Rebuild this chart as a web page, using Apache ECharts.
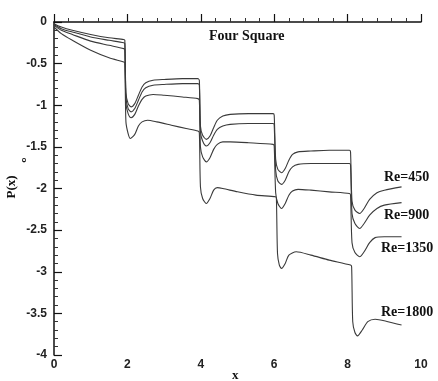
<!DOCTYPE html>
<html>
<head>
<meta charset="utf-8">
<script src="https://cdn.jsdelivr.net/npm/echarts@6/dist/echarts.min.js"></script>
<style>html,body{margin:0;padding:0;background:#fff;}#c{width:438px;height:381px;}</style>
</head>
<body>
<div id="c"></div>
<script>
var xTicks = [0, 2, 4, 6, 8, 10];
var yTicks = [0, -0.5, -1, -1.5, -2, -2.5, -3, -3.5, -4];
var seriesNames = ['Re=450', 'Re=900', 'Re=1350', 'Re=1800'];

var re450 = [[0,-0.02],[0.2,-0.06],[0.5,-0.10],[1.0,-0.15],[1.5,-0.19],[1.9,-0.21],
[1.93,-0.22],[1.96,-0.85],[2.02,-0.98],[2.1,-1.02],[2.2,-0.98],[2.3,-0.88],[2.4,-0.78],[2.5,-0.73],[2.7,-0.70],[3.0,-0.69],[3.5,-0.68],[3.92,-0.68],
[3.96,-0.70],[3.99,-1.25],[4.05,-1.36],[4.15,-1.41],[4.25,-1.37],[4.35,-1.27],[4.45,-1.18],[4.6,-1.13],[4.8,-1.11],[5.3,-1.10],[5.97,-1.10],
[6.0,-1.12],[6.04,-1.65],[6.1,-1.77],[6.2,-1.81],[6.3,-1.76],[6.4,-1.66],[6.5,-1.59],[6.65,-1.56],[7.0,-1.55],[7.5,-1.54],[8.05,-1.54],
[8.08,-1.56],[8.12,-2.15],[8.2,-2.26],[8.33,-2.30],[8.45,-2.24],[8.6,-2.13],[8.8,-2.05],[9.0,-2.02],[9.47,-1.98]];

var re900 = [[0,-0.03],[0.2,-0.08],[0.5,-0.12],[1.0,-0.18],[1.5,-0.22],[1.9,-0.25],
[1.93,-0.26],[1.96,-0.90],[2.02,-1.04],[2.1,-1.08],[2.2,-1.04],[2.3,-0.94],[2.4,-0.84],[2.5,-0.79],[2.7,-0.76],[3.0,-0.75],[3.5,-0.74],[3.92,-0.74],
[3.96,-0.76],[3.99,-1.32],[4.05,-1.43],[4.15,-1.49],[4.25,-1.45],[4.35,-1.36],[4.45,-1.29],[4.6,-1.25],[4.8,-1.23],[5.3,-1.22],[5.97,-1.22],
[6.0,-1.24],[6.04,-1.78],[6.1,-1.91],[6.2,-1.95],[6.3,-1.90],[6.4,-1.80],[6.5,-1.74],[6.65,-1.71],[7.0,-1.70],[7.5,-1.70],[8.05,-1.70],
[8.08,-1.72],[8.12,-2.30],[8.2,-2.42],[8.33,-2.48],[8.45,-2.42],[8.6,-2.32],[8.8,-2.24],[9.0,-2.20],[9.47,-2.17]];

var re1350 = [[0,-0.04],[0.2,-0.10],[0.5,-0.15],[1.0,-0.23],[1.5,-0.28],[1.9,-0.32],
[1.93,-0.33],[1.96,-0.98],[2.02,-1.10],[2.1,-1.15],[2.2,-1.11],[2.3,-1.01],[2.4,-0.93],[2.5,-0.89],[2.7,-0.87],[3.0,-0.88],[3.5,-0.90],[3.92,-0.92],
[3.96,-0.94],[3.99,-1.50],[4.05,-1.62],[4.15,-1.68],[4.25,-1.63],[4.35,-1.53],[4.45,-1.47],[4.6,-1.44],[4.8,-1.44],[5.3,-1.45],[5.97,-1.47],
[6.0,-1.49],[6.04,-2.05],[6.1,-2.18],[6.2,-2.24],[6.3,-2.18],[6.4,-2.08],[6.5,-2.03],[6.65,-2.01],[7.0,-2.02],[7.5,-2.04],[8.05,-2.06],
[8.08,-2.08],[8.12,-2.65],[8.2,-2.77],[8.33,-2.82],[8.45,-2.76],[8.6,-2.65],[8.75,-2.59],[9.0,-2.58],[9.47,-2.58]];

var re1800 = [[0,-0.06],[0.2,-0.14],[0.5,-0.22],[1.0,-0.34],[1.5,-0.43],[1.9,-0.48],
[1.93,-0.49],[1.96,-1.20],[2.02,-1.34],[2.08,-1.40],[2.2,-1.35],[2.3,-1.25],[2.4,-1.20],[2.55,-1.18],[2.8,-1.20],[3.2,-1.24],[3.6,-1.28],[3.92,-1.31],
[3.96,-1.33],[3.99,-1.98],[4.05,-2.12],[4.15,-2.18],[4.25,-2.12],[4.35,-2.02],[4.45,-1.99],[4.6,-2.00],[5.0,-2.04],[5.5,-2.08],[6.04,-2.10],
[6.06,-2.12],[6.09,-2.78],[6.14,-2.92],[6.2,-2.96],[6.3,-2.90],[6.4,-2.80],[6.6,-2.76],[7.0,-2.80],[7.5,-2.86],[8.08,-2.92],
[8.11,-2.94],[8.14,-3.60],[8.2,-3.73],[8.27,-3.77],[8.4,-3.70],[8.55,-3.60],[8.75,-3.57],[9.1,-3.60],[9.47,-3.64]];

var allData = [re450, re900, re1350, re1800];

var chart = echarts.init(document.getElementById('c'), null, {renderer: 'canvas'});
var lblFont = {fontFamily: 'Liberation Sans', fontWeight: 'bold', fontSize: 12, color: '#222'};
var serifFont = 'bold 14px "Liberation Serif"';
var option = {
  animation: false,
  backgroundColor: '#fff',
  title: {
    text: 'Four Square', left: 204, top: 24,
    textStyle: {fontFamily: 'Liberation Serif', fontWeight: 'bold', fontSize: 14, color: '#111'}
  },
  grid: {left: 54, top: 22, width: 367, height: 333, containLabel: false},
  xAxis: {
    type: 'value', min: 0, max: 10, interval: 2,
    axisLine: {show: true, lineStyle: {color: '#111', width: 1.5}},
    axisTick: {show: true, inside: true, length: 8, lineStyle: {color: '#111', width: 1.2}},
    minorTick: {show: true, splitNumber: 5, length: 4, lineStyle: {color: '#333'}},
    splitLine: {show: false},
    axisLabel: Object.assign({margin: 4, formatter: function (v) { return xTicks.indexOf(v) >= 0 ? String(v) : ''; }}, lblFont)
  },
  yAxis: {
    type: 'value', min: -4, max: 0, interval: 0.5,
    axisLine: {show: true, lineStyle: {color: '#111', width: 1.5}},
    axisTick: {show: true, inside: true, length: 8, lineStyle: {color: '#111', width: 1.2}},
    minorTick: {show: true, splitNumber: 5, length: 4, lineStyle: {color: '#333'}},
    splitLine: {show: false},
    axisLabel: Object.assign({margin: 7, formatter: function (v) { return yTicks.indexOf(v) >= 0 ? String(v) : ''; }}, lblFont)
  },
  series: allData.map(function (d, i) {
    return {
      name: seriesNames[i], type: 'line', data: d, showSymbol: false, smooth: 0.25,
      lineStyle: {color: '#3a3a3a', width: 1.1}
    };
  }),
  graphic: [
    {type: 'text', left: 384, top: 170, style: {text: 'Re=450', font: serifFont, fill: '#111'}},
    {type: 'text', left: 384, top: 208, style: {text: 'Re=900', font: serifFont, fill: '#111'}},
    {type: 'text', left: 381, top: 241, style: {text: 'Re=1350', font: serifFont, fill: '#111'}},
    {type: 'text', left: 381, top: 305, style: {text: 'Re=1800', font: serifFont, fill: '#111'}},
    {type: 'text', left: 232, top: 369, style: {text: 'x', font: 'bold 13px "Liberation Serif"', fill: '#111'}},
    {type: 'text', x: 12, y: 187, rotation: Math.PI / 2, style: {text: 'P(x)', font: 'bold 13px "Liberation Serif"', fill: '#111', textAlign: 'center', textVerticalAlign: 'middle'}},
    {type: 'text', x: 24, y: 160, rotation: Math.PI / 2, style: {text: 'o', font: 'bold 8px "Liberation Sans"', fill: '#111', textAlign: 'center', textVerticalAlign: 'middle'}}
  ]
};
chart.setOption(option);
</script>
</body>
</html>
